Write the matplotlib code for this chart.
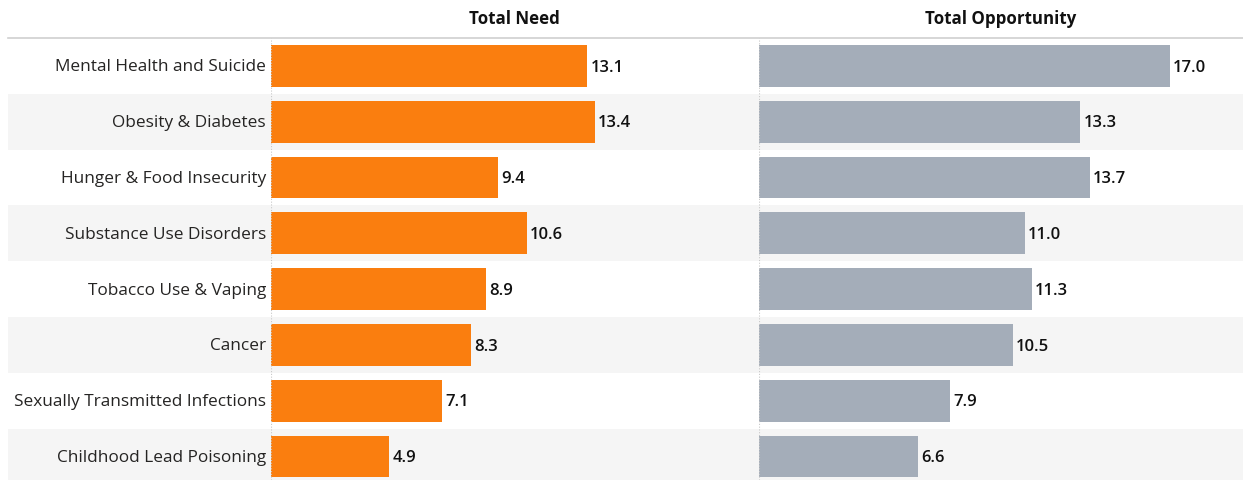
import matplotlib
matplotlib.use("Agg")
import matplotlib.pyplot as plt

categories = ["Mental Health and Suicide", "Obesity & Diabetes", "Hunger & Food Insecurity",
              "Substance Use Disorders", "Tobacco Use & Vaping", "Cancer",
              "Sexually Transmitted Infections", "Childhood Lead Poisoning"]
total_need = [13.1, 13.4, 9.4, 10.6, 8.9, 8.3, 7.1, 4.9]
total_opportunity = [17.0, 13.3, 13.7, 11.0, 11.3, 10.5, 7.9, 6.6]
panel_titles = ["Total Need", "Total Opportunity"]

W, H = 1243, 480
fig = plt.figure(figsize=(W / 100, H / 100), dpi=100)
FONT = ["Open Sans", "DejaVu Sans"]
TXT = "#252423"

top_px = 38
row_h = 55.8
n = len(categories)
y_bottom = -0.5 + (H - top_px) / row_h
scale = 24.15  # px per unit

def px_axes(x0, x1, y0, y1):
    return fig.add_axes([x0 / W, 1 - y1 / H, (x1 - x0) / W, (y1 - y0) / H])

# background bands
bg = px_axes(8, W, top_px, H)
bg.set_xlim(0, 1)
bg.set_ylim(y_bottom, -0.5)
for i in range(n):
    if i % 2 == 1:
        bg.axhspan(i - 0.5, i + 0.5, color="#F5F5F5", lw=0)
bg.axis("off")

# header line
fig.add_artist(plt.Line2D([8 / W, 1], [1 - top_px / H, 1 - top_px / H],
                          color="#D0D0D0", lw=1.2, transform=fig.transFigure))

panels = [(271, 758, total_need, "#FA7E0F"), (759, 1243, total_opportunity, "#A4ADB9")]
ypos = list(range(n))
for (x0, x1, vals, col), title in zip(panels, panel_titles):
    ax = px_axes(x0, x1, top_px, H)
    ax.patch.set_alpha(0)
    ax.set_xlim(0, (x1 - x0) / scale)
    ax.set_ylim(y_bottom, -0.5)
    ax.barh(ypos, vals, height=0.75, color=col, lw=0)
    for y, v in zip(ypos, vals):
        ax.text(v + 0.13, y + 0.03, f"{v:.1f}", va="center", ha="left", fontsize=12,
                color="#111111", family=FONT, fontweight="semibold")
    ax.axvline(0, color="#C8C8C8", lw=0.8, ls=(0, (1, 1.5)))
    ax.axis("off")
    fig.text(((x0 + x1) / 2) / W, 1 - 19 / H, title, ha="center", va="center",
             fontsize=12.2, fontweight="bold", family=FONT, color="#111111")

for y, c in zip(ypos, categories):
    fig.text(266 / W, 1 - (top_px + (y + 0.5) * row_h + 1.5) / H, c, ha="right", va="center",
             fontsize=12.4, family=FONT, color=TXT)

fig.savefig("out.png", dpi=100)
